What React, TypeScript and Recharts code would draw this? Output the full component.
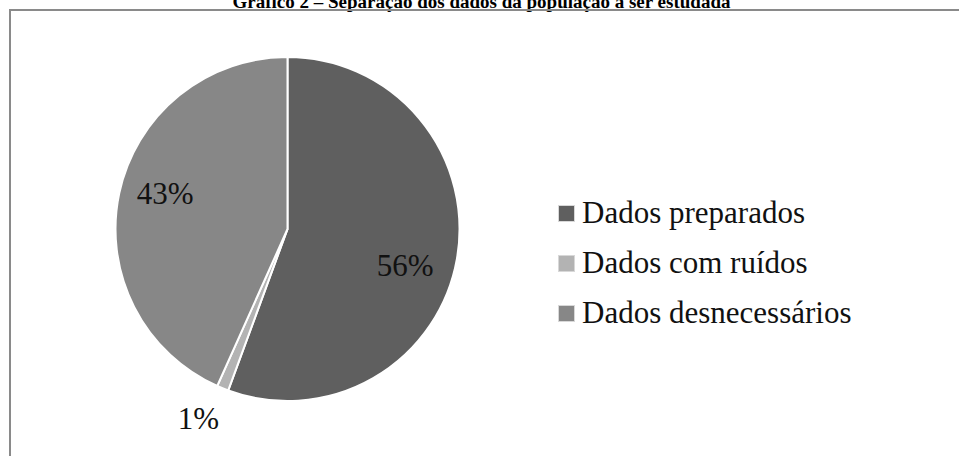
import { PieChart, Pie, Cell, Legend } from "recharts";

const categories = ["Dados preparados", "Dados com ruídos", "Dados desnecessários"];
const values = [55.6, 1.1, 43.3];
const percentLabels = ["56%", "1%", "43%"];
const colors = ["#5f5f5f", "#b3b3b3", "#878787"];

// where each percent label sits: share of the radius, and a small turn in degrees
const labelRadius = [0.715, 1.22, 0.742];
const labelTurn = [-7, -3, -4.3];

const FONT = "'Liberation Serif', 'Times New Roman', serif";
const RAD = Math.PI / 180;

const data = categories.map((name, i) => ({ name, value: values[i] }));

function renderLabel(props: any) {
  const { cx, cy, midAngle, outerRadius, index } = props;
  const r = outerRadius * labelRadius[index];
  const a = (midAngle + labelTurn[index]) * RAD;
  const x = cx + r * Math.cos(-a);
  const y = cy + r * Math.sin(-a);
  return (
    <text
      x={x}
      y={y}
      textAnchor="middle"
      dominantBaseline="central"
      fontFamily={FONT}
      fontSize={31}
      fill="#111"
    >
      {percentLabels[index]}
    </text>
  );
}

function LegendBox() {
  return (
    <div style={{ fontFamily: FONT, fontSize: 31, color: "#111" }}>
      {categories.map((c, i) => (
        <div key={c} style={{ display: "flex", alignItems: "center", height: 50, lineHeight: "50px" }}>
          <svg width={17} height={17} style={{ marginRight: 7 }}>
            <rect x={0.5} y={0.5} width={16} height={16} fill={colors[i]} stroke="#d8d8d8" />
          </svg>
          <span style={{ whiteSpace: "nowrap" }}>{c}</span>
        </div>
      ))}
    </div>
  );
}

export default function App() {
  return (
    <div style={{ position: "absolute", left: 0, top: 0, width: 959, height: 456, overflow: "hidden", background: "#fff" }}>
      <div
        style={{
          position: "absolute",
          left: 0,
          width: 959,
          top: -8,
          lineHeight: "20px",
          textAlign: "center",
          fontFamily: FONT,
          fontWeight: "bold",
          fontSize: 19,
          color: "#000",
          paddingLeft: 2,
        }}
      >
        Gráfico 2 – Separação dos dados da população a ser estudada
      </div>
      <div
        style={{
          position: "absolute",
          left: 9,
          top: 9,
          width: 980,
          height: 480,
          border: "2px solid #8a8a8a",
        }}
      />
      <div style={{ position: "absolute", left: 0, top: 0 }}>
        <PieChart width={959} height={456} margin={{ top: 0, right: 0, bottom: 0, left: 0 }}>
          <Pie
            data={data}
            dataKey="value"
            nameKey="name"
            cx={287.5}
            cy={229}
            outerRadius={172}
            startAngle={90}
            endAngle={-270}
            stroke="#fff"
            strokeWidth={2}
            label={renderLabel}
            labelLine={false}
            isAnimationActive={false}
          >
            {data.map((_, i) => (
              <Cell key={i} fill={colors[i]} />
            ))}
          </Pie>
          <Legend
            layout="vertical"
            verticalAlign="middle"
            align="right"
            wrapperStyle={{ left: 558, top: 188, right: "auto", width: 380 }}
            content={() => <LegendBox />}
          />
        </PieChart>
      </div>
    </div>
  );
}
